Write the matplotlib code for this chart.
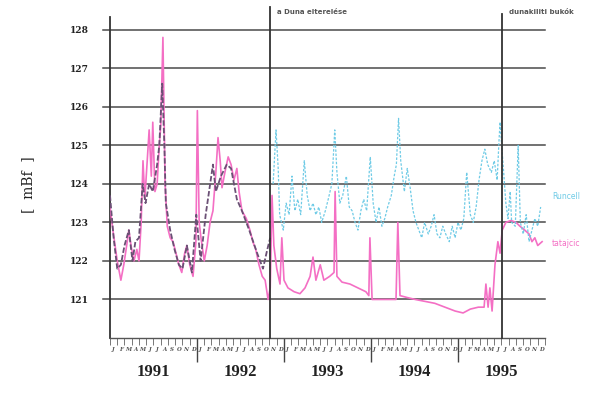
import numpy as np
import matplotlib
matplotlib.use("Agg")
import matplotlib.pyplot as plt

# ---- data (time in months since Jan 1991) ----
pink_t = [0.0, 0.4, 1.0, 1.5, 1.9, 2.3, 2.6, 2.9, 3.3, 3.7, 4.0, 4.3, 4.55, 4.8, 5.1, 5.4, 5.7, 5.9,
          6.2, 6.5, 6.8, 7.0, 7.3, 7.6, 7.9, 8.3, 8.7, 9.1, 9.5, 9.9, 10.3, 10.6, 11.0, 11.45, 11.85,
          12.05, 12.3, 12.55, 13.0, 13.4, 13.8, 14.2, 14.6, 14.9, 15.2, 15.45, 15.85, 16.3, 16.7, 17.1,
          17.5, 17.8, 18.2, 18.8, 19.3, 19.7, 20.1, 20.55, 21.0, 21.4, 21.8,
          22.1, 22.35, 22.6, 23.0, 23.45, 23.7, 24.0, 24.55, 25.4, 26.2, 26.9, 27.6, 28.0, 28.4, 29.0,
          29.5, 30.3, 30.9, 31.05, 31.3, 32.0, 33.1, 34.2, 35.3, 35.7, 35.85, 36.15, 37.2, 38.6, 39.45,
          39.7, 40.0, 41.0, 42.1, 43.45, 44.8, 46.2, 47.6, 48.7, 49.7, 50.8, 51.6, 51.85, 52.15, 52.4,
          52.7, 53.1, 53.5, 53.8, 54.1, 54.6, 55.3, 56.0, 56.55, 57.2, 57.8, 58.2, 58.6, 59.0, 59.6]
pink_v = [123.4, 122.8, 122.0, 121.5, 121.9, 122.4, 122.8, 122.4, 122.0, 122.3, 122.0, 123.0, 124.6,
          123.6, 124.5, 125.4, 124.2, 125.6, 123.8, 124.0, 125.0, 125.5, 127.8, 124.0, 122.9, 122.6,
          122.5, 122.2, 121.9, 121.7, 122.2, 122.4, 121.9, 121.6, 122.5, 125.9, 123.0, 122.6, 122.0,
          122.4, 123.0, 123.3, 124.3, 125.2, 124.6, 123.9, 124.3, 124.7, 124.5, 124.1, 124.4, 123.8,
          123.3, 123.1, 122.8, 122.5, 122.3, 121.9, 121.6, 121.5, 121.0,
          121.3, 123.7, 122.4, 121.8, 121.4, 122.6, 121.5, 121.3, 121.2, 121.15, 121.3, 121.6, 122.1,
          121.5, 121.9, 121.5, 121.6, 121.7, 123.8, 121.6, 121.45, 121.4, 121.3, 121.2, 121.1, 122.6,
          121.0, 121.0, 121.0, 121.0, 123.0, 121.1, 121.05, 121.0, 120.95, 120.9, 120.8, 120.7, 120.65,
          120.75, 120.8, 120.8, 121.4, 120.8, 121.3, 120.7, 121.9, 122.5, 122.2, 122.8, 123.0, 123.05,
          123.0, 122.9, 122.8, 122.7, 122.5, 122.6, 122.4, 122.5]

cyan_t = [0.0, 0.5, 1.0, 1.5, 2.0, 2.6, 3.1, 3.5, 4.0, 4.5, 4.9, 5.4, 5.9, 6.5, 6.8, 7.2, 7.5, 7.7,
          8.3, 8.9, 9.5, 10.0, 10.6, 11.3, 11.9, 12.5, 13.2, 14.2, 14.6, 15.3, 16.1, 16.7, 17.5, 18.2,
          19.2, 20.3, 21.1, 21.7,
          22.1, 22.5, 22.9, 23.2, 23.4, 23.9, 24.3, 24.7, 25.1, 25.5, 25.9, 26.3, 26.8, 27.2, 27.6, 28.0,
          28.4, 28.8, 29.2, 29.7, 30.1, 30.6, 31.0, 31.3, 31.7, 32.1, 32.6, 33.0, 33.4, 33.8, 34.2, 34.6,
          35.0, 35.4, 35.9, 36.3, 36.7, 37.1, 37.5, 37.9, 38.3, 38.8, 39.2, 39.5, 39.8, 40.1, 40.6, 41.0,
          41.4, 41.8, 42.2, 42.6, 43.0, 43.4, 43.9, 44.3, 44.7, 45.1, 45.5, 45.9, 46.3, 46.8, 47.2, 47.6,
          48.0, 48.4, 48.8, 49.2, 49.7, 50.1, 50.5, 50.9, 51.3, 51.7, 52.1, 52.6, 53.0, 53.4, 53.65,
          53.8, 54.1, 54.3, 54.6, 54.9, 55.2, 55.4, 55.9, 56.3, 56.6, 57.0, 57.4, 57.8, 58.2, 58.6,
          59.0, 59.4]
cyan_v = [123.7, 122.6, 121.8, 121.9, 122.4, 122.8, 122.0, 122.5, 122.6, 124.0, 123.5, 124.0, 123.8,
          124.5, 125.0, 126.6, 125.0, 123.5, 122.8, 122.3, 121.9, 121.8, 122.4, 121.7, 123.2, 122.0,
          123.2, 124.5, 123.8, 124.2, 124.5, 124.4, 123.6, 123.3, 122.8, 122.2, 121.8, 122.3,
          122.6, 124.0, 125.4, 124.4, 123.2, 122.8, 123.5, 123.2, 124.2, 123.3, 123.6, 123.2, 124.6,
          123.7, 123.3, 123.5, 123.2, 123.4, 123.0, 123.3, 123.6, 124.0, 125.4, 124.3, 123.5, 123.7,
          124.2, 123.4, 123.3, 123.0, 122.8, 123.3, 123.6, 123.3, 124.7, 123.5, 123.0, 123.4, 122.9,
          123.1, 123.4, 123.7, 124.2, 124.5, 125.7, 124.6, 123.8, 124.4, 123.9, 123.3, 123.0, 122.8,
          122.6, 123.0, 122.7, 122.9, 123.2, 122.7, 122.6, 122.9, 122.7, 122.5, 122.9, 122.6, 123.0,
          122.8, 123.1, 124.3, 123.2, 123.0, 123.4, 124.1, 124.6, 124.9, 124.5, 124.3, 124.6, 124.1,
          125.1, 125.6, 124.8, 124.3, 123.5, 123.1, 123.8, 123.0, 122.9, 125.0, 123.0, 122.7, 123.2,
          122.5, 122.8, 123.1, 122.9, 123.4]

years = ["1991", "1992", "1993", "1994", "1995"]
month_letters = list("JFMAMJJASOND")
y_ticks = [121, 122, 123, 124, 125, 126, 127, 128]
event_t = [22.07, 54.07]
event_labels = ["a Duna elterelése", "dunakiliti bukók"]
series_labels = ["Runcell", "tatajcic"]

# ---- figure ----
fig = plt.figure(figsize=(6.04, 3.99), dpi=100)
ax = fig.add_axes([110 / 604, 1 - 338 / 399, 435 / 604, (338 - 17) / 399])
ax.set_xlim(0, 60)
ax.set_ylim(120, 128.33)

grid_c = "#4a4a4a"
for yv in y_ticks:
    ax.plot([-1.0, 60], [yv, yv], color=grid_c, lw=1.1, clip_on=False, zorder=1)

# series
pink_c = "#f46fc4"
cyan_c = "#6fcbe6"
dark_c = "#6b5075"
ct = np.array(cyan_t)
cv = np.array(cyan_v)
n = min(len(ct), len(cv))
ct, cv = ct[:n], cv[:n]
pre = ct < event_t[0] + 0.05
ax.plot(pink_t, pink_v, color=pink_c, lw=1.2, zorder=3)
ax.plot(ct[pre], cv[pre], color=dark_c, lw=1.3, ls=(0, (3, 1.2)), zorder=4)
ax.plot(ct[~pre], cv[~pre], color=cyan_c, lw=0.9, ls=(0, (2, 1.3)), zorder=4)

# event lines
for et, lab, top in zip(event_t, event_labels, [128.6, 128.4]):
    ax.plot([et, et], [120, top], color="#333333", lw=1.3, clip_on=False, zorder=5)
    ax.text(et + 1.0, 128.45, lab, fontsize=5, fontweight="bold", color="#555555",
            ha="left", va="center", family="DejaVu Sans")

# spines
for s in ["top", "right"]:
    ax.spines[s].set_visible(False)
ax.spines["left"].set_color("#333333")
ax.spines["left"].set_linewidth(1.3)
ax.spines["bottom"].set_color("#555555")
ax.spines["bottom"].set_linewidth(1.0)

# y ticks
ax.set_yticks(y_ticks)
ax.set_yticklabels([str(v) for v in y_ticks], fontsize=6.5, fontweight="bold",
                   family="DejaVu Serif")
ax.tick_params(axis="y", length=0, pad=15, colors="#222222")

# x ticks
ax.set_xticks([12, 24, 36, 48])
ax.set_xticklabels([])
ax.set_xticks(np.arange(0, 61, 1), minor=True)
ax.tick_params(axis="x", which="major", length=17, width=1.0, color="#444444")
ax.tick_params(axis="x", which="minor", length=5, width=0.7, color="#777777")

trans = ax.get_xaxis_transform()
for i in range(60):
    ax.text(i + 0.5, -0.035, month_letters[i % 12], transform=trans, fontsize=4,
            fontweight="bold", style="italic", ha="center", va="center", color="#555555",
            family="DejaVu Serif")
for i, yl in enumerate(years):
    ax.text(12 * i + 6, -0.105, yl, transform=trans, fontsize=12, fontweight="bold",
            ha="center", va="center", color="#222222", family="Liberation Serif")

# right labels
fig.text(552 / 604, 1 - 197 / 399, series_labels[0], fontsize=5.5, color=cyan_c,
         ha="left", va="center")
fig.text(552 / 604, 1 - 243 / 399, series_labels[1], fontsize=5.5, color=pink_c,
         ha="left", va="center")

# y label
fig.text(28 / 604, 1 - 185 / 399, "[  mBf  ]", rotation=90, fontsize=10,
         ha="center", va="center", family="DejaVu Serif", color="#222222")

fig.savefig("out.png", dpi=100)
